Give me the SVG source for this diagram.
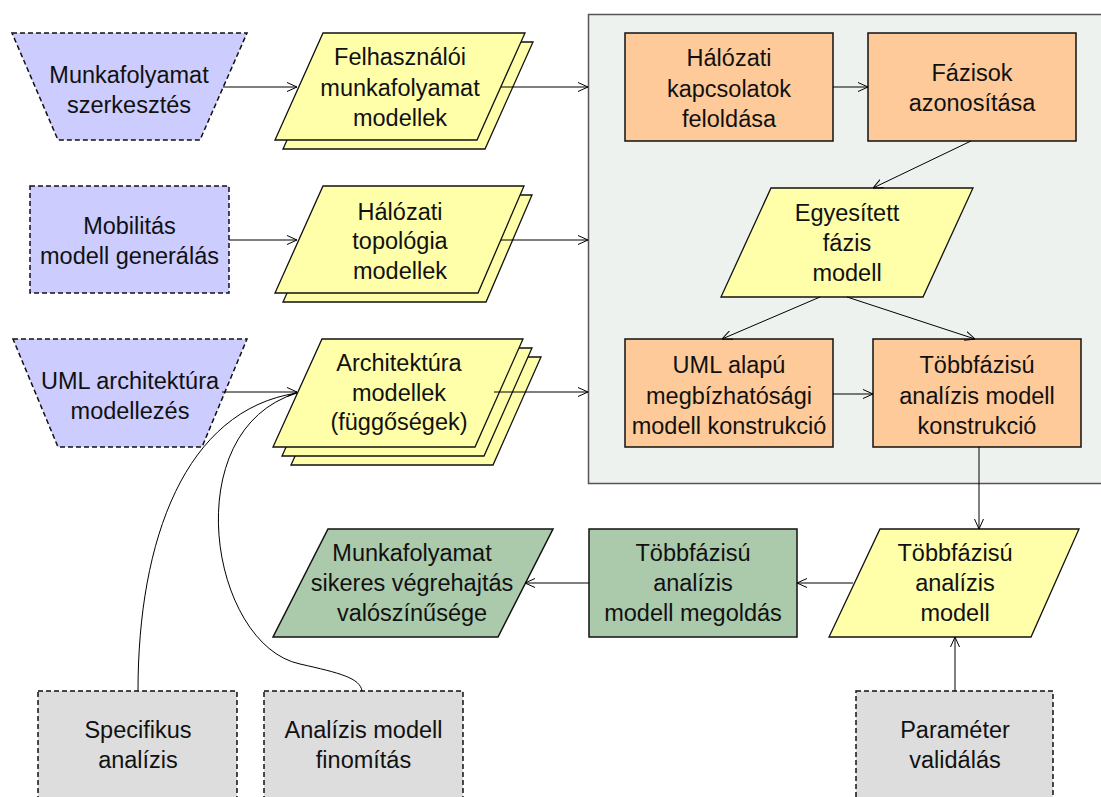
<svg xmlns="http://www.w3.org/2000/svg" width="1101" height="797" viewBox="0 0 1101 797">
  <style>
    text { font-family: "Liberation Sans", Arial, sans-serif; font-size: 23.5px; fill: #111; text-anchor: middle; }
    .tool { fill: #CCCCFF; stroke: #111; stroke-width: 1.5; stroke-dasharray: 5 3; }
    .ext { fill: #DDDDDD; stroke: #111; stroke-width: 1.5; stroke-dasharray: 5 3; }
    .data { fill: #FFFFAA; stroke: #111; stroke-width: 1.3; }
    .step { fill: #FFCA99; stroke: #111; stroke-width: 1.5; }
    .result { fill: #ABCAAB; stroke: #111; stroke-width: 1.5; }
    .frame { fill: #EEF2EE; stroke: #555; stroke-width: 1.5; }
    .conn { fill: none; stroke: #000; stroke-width: 1; }
    .conn.arrow { marker-end: url(#open); }
  </style>
  <defs>
    <marker id="open" viewBox="0 0 10 10" refX="10" refY="5" markerWidth="10" markerHeight="10" markerUnits="userSpaceOnUse" orient="auto">
      <path d="M0,0.5 L10,5 L0,9.5" fill="none" stroke="#000" stroke-width="1"/>
    </marker>
  </defs>

  <rect width="1101" height="797" fill="#FFFFFF"/>

  <!-- transformation frame -->
  <g id="frame">
    <rect class="frame" x="588.5" y="14.5" width="530" height="469"/>
  </g>

  <!-- modelling tools -->
  <g id="tool-workflow">
    <polygon class="tool" points="12,33 247,33 200,140 58,140"/>
    <text x="129" y="83">Munkafolyamat</text>
    <text x="129" y="113">szerkesztés</text>
  </g>
  <g id="tool-mobility">
    <rect class="tool" x="30" y="186" width="199" height="107"/>
    <text x="129.5" y="234">Mobilitás</text>
    <text x="129.5" y="264">modell generálás</text>
  </g>
  <g id="tool-uml">
    <polygon class="tool" points="13,339 247,339 202,447 58,447"/>
    <text x="130" y="389">UML architektúra</text>
    <text x="130" y="419">modellezés</text>
  </g>

  <!-- input model stacks -->
  <g id="workflow-models">
    <polygon class="data" points="331,42 533,42 485,149 283,149"/>
    <polygon class="data" points="323,33 525,33 477,140 275,140"/>
    <text x="400" y="65">Felhasználói</text>
    <text x="400" y="96">munkafolyamat</text>
    <text x="400" y="126">modellek</text>
  </g>
  <g id="topology-models">
    <polygon class="data" points="331,195 532,195 486,302 283,302"/>
    <polygon class="data" points="323,186 524,186 478,293 275,293"/>
    <text x="400" y="220">Hálózati</text>
    <text x="400" y="249">topológia</text>
    <text x="400" y="279">modellek</text>
  </g>
  <g id="architecture-models">
    <polygon class="data" points="340,357 541,357 493,465 291,465"/>
    <polygon class="data" points="331,348 532,348 484,456 282,456"/>
    <polygon class="data" points="322,339 523,339 475,447 273,447"/>
    <text x="399" y="371">Architektúra</text>
    <text x="399" y="401">modellek</text>
    <text x="399" y="430">(függőségek)</text>
  </g>

  <!-- transformation steps -->
  <g id="resolve-links">
    <rect class="step" x="625" y="33" width="208" height="108"/>
    <text x="729" y="66">Hálózati</text>
    <text x="729" y="97">kapcsolatok</text>
    <text x="729" y="127">feloldása</text>
  </g>
  <g id="phase-identification">
    <rect class="step" x="868" y="33" width="208" height="108"/>
    <text x="972" y="81">Fázisok</text>
    <text x="972" y="111">azonosítása</text>
  </g>
  <g id="unified-phase-model">
    <polygon class="data" points="771,188 973,188 923,297 721,297"/>
    <text x="847" y="221">Egyesített</text>
    <text x="847" y="251">fázis</text>
    <text x="847" y="281">modell</text>
  </g>
  <g id="uml-reliability">
    <rect class="step" x="625" y="339" width="208" height="108"/>
    <text x="729" y="373">UML alapú</text>
    <text x="729" y="404">megbízhatósági</text>
    <text x="729" y="434">modell konstrukció</text>
  </g>
  <g id="multiphase-construction">
    <rect class="step" x="873" y="339" width="208" height="108"/>
    <text x="977" y="373">Többfázisú</text>
    <text x="977" y="404">analízis modell</text>
    <text x="977" y="434">konstrukció</text>
  </g>

  <!-- analysis and results -->
  <g id="multiphase-model">
    <polygon class="data" points="880,529 1079,529 1031,637 829,637"/>
    <text x="955" y="561">Többfázisú</text>
    <text x="955" y="591">analízis</text>
    <text x="955" y="621">modell</text>
  </g>
  <g id="model-solution">
    <rect class="result" x="589" y="529" width="208" height="108"/>
    <text x="693" y="561">Többfázisú</text>
    <text x="693" y="591">analízis</text>
    <text x="693" y="621">modell megoldás</text>
  </g>
  <g id="success-probability">
    <polygon class="result" points="328,529 553,529 498,637 273,637"/>
    <text x="412" y="561">Munkafolyamat</text>
    <text x="412" y="591">sikeres végrehajtás</text>
    <text x="412" y="621">valószínűsége</text>
  </g>

  <!-- extensions -->
  <g id="specific-analysis">
    <rect class="ext" x="38" y="691" width="199" height="120"/>
    <text x="138" y="738">Specifikus</text>
    <text x="138" y="768">analízis</text>
  </g>
  <g id="model-refinement">
    <rect class="ext" x="264" y="691" width="199" height="120"/>
    <text x="363.5" y="738">Analízis modell</text>
    <text x="363.5" y="768">finomítás</text>
  </g>
  <g id="parameter-validation">
    <rect class="ext" x="856" y="691" width="197" height="120"/>
    <text x="955" y="738">Paraméter</text>
    <text x="955" y="768">validálás</text>
  </g>

  <!-- connectors -->
  <g id="connectors">
    <line class="conn arrow" x1="223" y1="87" x2="297" y2="87"/>
    <line class="conn arrow" x1="229" y1="240" x2="297" y2="240"/>
    <line class="conn arrow" x1="222" y1="392" x2="297" y2="392"/>
    <line class="conn arrow" x1="501" y1="87" x2="588" y2="87"/>
    <line class="conn arrow" x1="501" y1="240" x2="588" y2="240"/>
    <line class="conn arrow" x1="494" y1="392" x2="588" y2="392"/>
    <line class="conn arrow" x1="833" y1="87" x2="868" y2="87"/>
    <line class="conn arrow" x1="971" y1="141" x2="873" y2="188"/>
    <line class="conn arrow" x1="820" y1="297" x2="722" y2="339"/>
    <line class="conn arrow" x1="847" y1="297" x2="975" y2="339"/>
    <line class="conn arrow" x1="833" y1="394" x2="873" y2="394"/>
    <line class="conn arrow" x1="979" y1="447" x2="979" y2="529"/>
    <line class="conn arrow" x1="853" y1="583" x2="797" y2="583"/>
    <line class="conn arrow" x1="589" y1="583" x2="525" y2="583"/>
    <line class="conn arrow" x1="955" y1="691" x2="955" y2="637"/>
    <path class="conn" d="M138,691 C138,540 185,410 297,393"/>
    <path class="conn" d="M362,691 C360,678 340,673 300,664 C210,645 175,430 297,393"/>
  </g>
</svg>
